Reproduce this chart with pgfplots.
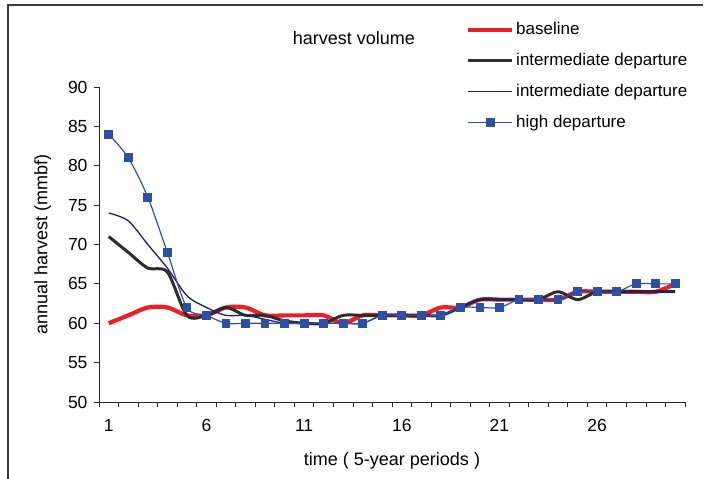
\documentclass[border=0pt]{standalone}
\usepackage{fontspec}
\setmainfont{Liberation Sans}
\usepackage{pgfplots}
\pgfplotsset{compat=1.18}
\definecolor{cred}{RGB}{238,30,36}
\definecolor{cblack}{RGB}{45,45,45}
\definecolor{cnavy}{RGB}{30,30,110}
\definecolor{cblue}{RGB}{45,80,165}
\definecolor{frame}{RGB}{60,60,60}
\begin{document}
\begin{tikzpicture}[x=1pt,y=1pt]
\useasboundingbox (0,0) rectangle (707,479);
\draw[line width=2pt, color=frame] (8,0) -- (8,474) -- (703,474);
\begin{axis}[
  at={(99pt,77pt)}, anchor=south west,
  scale only axis, width=586pt, height=315pt,
  xmin=0.5, xmax=30.5, ymin=50, ymax=90,
  axis lines*=left,
  axis line style={line width=0.9pt, color=black!85},
  tick align=outside,
  major tick length=5pt,
  tick style={line width=0.8pt, color=black!85},
  xtick={0.5,1.5,...,30.5}, xticklabels={},
  extra x ticks={1,6,11,16,21,26},
  extra x tick labels={1,6,11,16,21,26},
  extra x tick style={major tick length=0pt, xticklabel style={yshift=-14pt}},
  ytick={50,55,...,90},
  /pgf/number format/assume math mode=true,
  ticklabel style={font=\fontsize{17.5}{17.5}\selectfont},
  yticklabel style={xshift=-3pt},
  xlabel={time ( 5-year periods )},
  ylabel={annual harvest (mmbf)},
  label style={font=\fontsize{18}{18}\selectfont},
  xlabel style={yshift=-9pt},
  ylabel style={yshift=10pt},
  title={harvest volume},
  title style={at={(0.435,1.115)}, anchor=base, font=\fontsize{18}{18}\selectfont},
  legend style={at={(0.626,1.2095)}, anchor=north west, draw=none, fill=none,
     inner sep=0pt, row sep=14pt, column sep=2pt,
     font=\fontsize{17}{17}\selectfont,
     nodes={inner sep=0pt, text height=13pt, text depth=4pt},
     cells={anchor=west}},
  legend image code/.code={\draw[mark repeat=2,mark phase=2,#1] plot coordinates {(0pt,0pt) (22pt,0pt) (44pt,0pt)};},
  clip=false,
]
\addplot[color=cred, line width=4.2pt, smooth, tension=0.5] coordinates {
(1,60)(2,61)(3,62)(4,62)(5,61)(6,61)(7,62)(8,62)(9,61)(10,61)
(11,61)(12,61)(13,60)(14,61)(15,61)(16,61)(17,61)(18,62)(19,62)(20,63)
(21,63)(22,63)(23,63)(24,63)(25,64)(26,64)(27,64)(28,64)(29,64)(30,65)};
\addlegendentry{baseline}
\addplot[color=cblack, line width=3pt, smooth, tension=0.5] coordinates {
(1,71)(2,69)(3,67)(4,66.5)(5,61)(6,61)(7,62)(8,61)(9,61)(10,60.3)
(11,60)(12,60)(13,61)(14,61)(15,61)(16,61)(17,61)(18,61)(19,62)(20,63)
(21,63)(22,63)(23,63)(24,64)(25,63)(26,64)(27,64)(28,64)(29,64)(30,64)};
\addlegendentry{intermediate departure}
\addplot[color=cnavy, line width=1.3pt, smooth, tension=0.5] coordinates {
(1,74)(2,73)(3,70)(4,67)(5,63.5)(6,62)(7,61)(8,61)(9,60.5)(10,60)
(11,60)(12,60)(13,60)(14,60)(15,61)(16,61)(17,61)(18,61)(19,62)(20,63)
(21,63)(22,63)(23,63)(24,63)(25,64)(26,64)(27,64)(28,64)(29,64)(30,64)};
\addlegendentry{intermediate departure}
\addplot[color=cblue, line width=1.2pt, smooth, tension=0.5, mark=square*, mark size=3.8pt, mark options={solid, fill=cblue}] coordinates {
(1,84)(2,81)(3,76)(4,69)(5,62)(6,61)(7,60)(8,60)(9,60)(10,60)
(11,60)(12,60)(13,60)(14,60)(15,61)(16,61)(17,61)(18,61)(19,62)(20,62)
(21,62)(22,63)(23,63)(24,63)(25,64)(26,64)(27,64)(28,65)(29,65)(30,65)};
\addlegendentry{high departure}
\end{axis}
\end{tikzpicture}
\end{document}
